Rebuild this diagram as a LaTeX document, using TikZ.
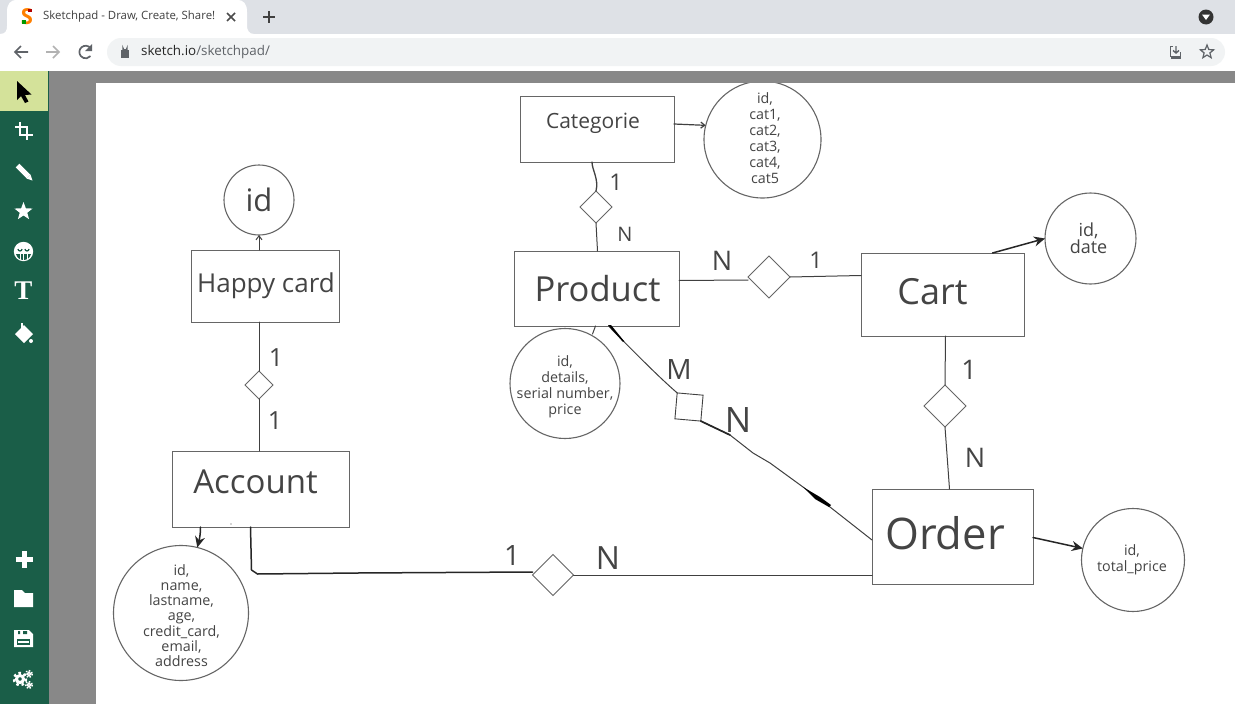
\documentclass[tikz,border=0pt]{standalone}
\usepackage{fontspec}
\setmainfont{Open Sans}
\newfontfamily\serifT{Liberation Serif}
\usetikzlibrary{shapes.geometric,arrows.meta,calc}
\definecolor{ink}{HTML}{444444}
\definecolor{pen}{HTML}{666666}
\definecolor{side}{HTML}{1A5E48}
\definecolor{band}{HTML}{888888}
\definecolor{tabbar}{HTML}{DEE1E6}
\definecolor{pill}{HTML}{F1F3F4}
\definecolor{lime}{HTML}{D4E29A}
\definecolor{uiicon}{HTML}{5F6368}
\tikzset{
 box/.style={draw=pen,line width=.9pt,rectangle,inner sep=0pt,outer sep=0pt,fill=white},
 attr/.style={draw=pen,line width=1.1pt,circle,inner sep=0pt,outer sep=0pt,fill=white},
 attrtext/.style={text=ink,align=center,inner sep=0pt},
 rel/.style={draw=pen,line width=1pt,diamond,aspect=1,inner sep=0pt,outer sep=0pt,fill=white},
 lab/.style={text=ink,inner sep=0pt},
 conn/.style={draw=black!75,line width=1pt,line cap=round,line join=round},
 heavy/.style={draw=black!85,line width=1.5pt,line cap=round,line join=round},
 tip/.style={-{Stealth[length=11pt,width=10pt]}},
 tinytip/.style={-{Straight Barb[length=4pt,width=6pt]}},
 ui/.style={white,line width=2.5pt},
}
\newcommand{\fs}[1]{\fontsize{#1}{#1}\selectfont}
\newcommand{\fsb}[2]{\fontsize{#1}{#2}\selectfont}
\begin{document}
\begin{tikzpicture}[x=1pt,y=-1pt]
\useasboundingbox (0,0) rectangle (1235,704);
% browser chrome
\fill[tabbar] (0,0) rectangle (1235,34);
\fill[white] (0,34) rectangle (1235,71);
\fill[white] (0,34) .. controls (6,34) and (7,30) .. (7,26) -- (7,12) .. controls (7,4) and (10,0) .. (17,0) -- (237,0) .. controls (244,0) and (247,4) .. (247,12) -- (247,26) .. controls (247,30) and (249,34) .. (254,34) -- cycle;
\fill[pill,rounded corners=14pt] (107,38) rectangle (1225,66);
\node[inner sep=0pt,font=\bfseries\fs{22},text=orange] at (27,17) {S};
\fill[green!60!black] (22,20) rectangle (26,24);
\fill[red!70!black] (28,9) rectangle (32,12);
\node[anchor=west,inner sep=0pt,text=black!75,font=\fs{11.4}] at (43,17) {Sketchpad - Draw, Create, Share!};
\draw[black!70,line width=1.5pt] (227,13) -- (235,21) (235,13) -- (227,21);
\draw[black!75,line width=1.8pt] (263,17) -- (275,17) (269,11) -- (269,23);
\fill[black!80] (1206,17) circle (7.5);
\fill[white] (1202,14.5) -- (1210,14.5) -- (1206,20) -- cycle;
\draw[uiicon,line width=1.7pt] (28,52) -- (15,52) (21,46) -- (15,52) -- (21,58);
\draw[black!30,line width=1.7pt] (46,52) -- (59,52) (53,46) -- (59,52) -- (53,58);
\draw[uiicon,line width=1.7pt] (90.5,48) arc (-40:-320:6.3);
\fill[uiicon] (92,44) -- (92,51) -- (85,51) -- cycle;
\fill[uiicon] (121,50) rectangle (129,58);
\draw[uiicon,line width=1.2pt] (123,50) -- (123,48) arc (180:0:2) -- (127,50);
\node[anchor=west,inner sep=0pt,font=\fs{13.4}] at (141,52) {\textcolor{black!85}{sketch.io}\textcolor{uiicon}{/sketchpad/}};
\draw[uiicon,line width=1pt] (1173,46.5) -- (1170,46.5) -- (1170,56) -- (1180,56) -- (1180,52);
\draw[uiicon,line width=1.4pt] (1176,46) -- (1176,53) (1173,50.5) -- (1176,53) -- (1179,50.5);
\fill[uiicon] (1171,57) rectangle (1181,59);
\node[star,star points=5,star point ratio=2.3,draw=uiicon,line width=1.2pt,minimum size=14pt,inner sep=0pt] at (1207,52) {};
% app frame
\fill[band] (49,71) rectangle (1235,704);
\fill[side] (0,71) rectangle (49,704);
\fill[lime] (0,71) rectangle (48,111);
\fill[white] (96,83) rectangle (1235,704);
% toolbar icons
\fill[black] (17,81) -- (17,100) -- (21,96) -- (25,103) -- (28.5,101.5) -- (25,95) -- (31.5,94.5) -- cycle;
\draw[ui] (15,127) -- (27,127) -- (27,140) (20,122) -- (20,135) -- (33,135);
\draw[white,line width=5pt] (17.5,165.5) -- (28.5,176.5);
\fill[white] (26.5,178.5) -- (30.5,174.5) -- (32.5,180.5) -- cycle;
\node[star,star points=5,star point ratio=2.4,fill=white,minimum size=19pt,inner sep=0pt] at (23.5,211.5) {};
\fill[white] (23.5,251.5) circle (9.7);
\fill[side] (16,254) .. controls (18,262) and (29,262) .. (31,254) -- cycle;
\draw[side,line width=1.2pt] (18,249) arc (180:0:2) (25,249) arc (180:0:2);
\draw[white,line width=.8pt] (20,254) -- (20,260) (23.5,254) -- (23.5,261) (27,254) -- (27,260);
\node[inner sep=0pt,text=white,font=\serifT\bfseries\fs{27}] at (23.5,291) {T};
\fill[white] (24,325) -- (33,334) -- (24,343) -- (15,334) -- cycle;
\fill[white] (31,341) circle (2);
\draw[white,line width=2pt] (22,330) -- (22,323);
\draw[white,line width=5pt] (15.5,559.5) -- (32.5,559.5) (24,551) -- (24,568);
\fill[white] (14,590) -- (22,590) -- (25,593) -- (33,593) -- (33,607) -- (14,607) -- cycle;
\fill[white] (14,630) -- (29,630) -- (33,634) -- (33,647) -- (14,647) -- cycle;
\fill[side] (18,631) rectangle (20,634) (23,631) rectangle (27,634);
\fill[side] (17,639) rectangle (30,645);
\fill[white] (18,641) rectangle (29,643);
\draw[white,line width=3pt] (20,679) circle (3.5);
\draw[white,line width=2.5pt,dash pattern=on 2.5pt off 2.8pt] (20,679) circle (6);
\draw[white,line width=1.6pt] (29,674) circle (1.8);
\draw[white,line width=1.4pt,dash pattern=on 1.5pt off 1.6pt] (29,674) circle (3.4);
\draw[white,line width=1.6pt] (29,685) circle (1.8);
\draw[white,line width=1.4pt,dash pattern=on 1.5pt off 1.6pt] (29,685) circle (3.4);
% nodes
\node[box,minimum width=154pt,minimum height=66pt,label={[lab,font=\fs{21},xshift=-4pt,yshift=6pt]center:Categorie}] (categorie) at (597,129) {};
\node[box,minimum width=148pt,minimum height=72pt,label={[lab,font=\fs{26},xshift=1pt,yshift=0pt]center:Happy card}] (happy) at (265,286) {};
\fill[black!70] (331.5,284.5) circle (.7);
\node[box,minimum width=165pt,minimum height=75pt,label={[lab,font=\fs{34.5},xshift=1pt,yshift=0pt]center:Product}] (product) at (596.5,288.5) {};
\node[box,minimum width=163pt,minimum height=83pt,label={[lab,font=\fs{36},xshift=-10pt,yshift=3pt]center:Cart}] (cart) at (942.5,294.5) {};
\node[box,minimum width=177pt,minimum height=76pt,label={[lab,font=\fs{33},xshift=-5pt,yshift=7pt]center:Account}] (account) at (260.5,489) {};
\fill[black!70] (231,524) circle (.7);
\node[box,minimum width=161pt,minimum height=95pt,label={[lab,font=\fs{43.5},xshift=-7.5pt,yshift=3pt]center:Order}] (order) at (952.5,536.5) {};
\begin{scope}
\clip (96,83) rectangle (1235,704);
\node[attr,minimum size=117pt,label={[attrtext,font=\fsb{14.3}{16},xshift=2.5pt,yshift=1.5pt]center:{id,\\cat1,\\cat2,\\cat3,\\cat4,\\cat5}}] (catattr) at (762.5,139.5) {};
\end{scope}
\node[attr,minimum size=70pt,label={[attrtext,font=\fs{31}]center:id}] (hid) at (259,200) {};
\node[attr,minimum size=91pt,label={[attrtext,font=\fsb{18}{17},xshift=-2pt,yshift=0pt]center:{id,\\date}}] (cartattr) at (1090.5,238.5) {};
\node[attr,minimum size=110pt,label={[attrtext,font=\fsb{14.3}{16},yshift=-3pt]center:{id,\\details,\\serial number,\\price}}] (prodattr) at (565,383.5) {};
\node[attr,minimum size=135pt,label={[attrtext,font=\fsb{14.3}{15.2},xshift=.5pt,yshift=-2.5pt]center:{id,\\name,\\lastname,\\age,\\credit\_card,\\email,\\address}}] (accattr) at (181,613) {};
\node[attr,minimum size=103pt,label={[attrtext,font=\fsb{14.3}{15.5},xshift=-1pt]center:{id,\\total\_price}}] (ordattr) at (1133,560) {};
\node[rel,minimum size=32pt] (rcp) at (596,207) {};
\node[rel,minimum size=28pt] (rha) at (259,385) {};
\node[rel,minimum size=42pt] (rpc) at (769,277) {};
\node[rel,minimum size=42pt] (rco) at (945,406) {};
\node[rel,minimum size=41pt] (rao) at (553,575) {};
\node[draw=black!75,line width=.9pt,rectangle,rotate=-5,minimum size=26pt,inner sep=0pt,outer sep=0pt,fill=white] (rpo) at (689,407) {};
% connectors
\draw[conn,line width=1.2pt,tinytip] ([yshift=5pt]categorie.east) -- (catattr.166);
\draw[conn,tinytip] ([xshift=-6pt]happy.north) -- (hid.south);
\draw[heavy,tip] ([xshift=50pt]cart.north) -- (cartattr.west);
\draw[heavy,tip] ([xshift=-60pt]account.south) .. controls +(0,8) and +(2,-8) .. (accattr.76);
\draw[heavy,tip] ([yshift=-1pt]order.east) -- (ordattr.167);
\draw[conn,line width=1.3pt] ([xshift=-5pt]categorie.south) .. controls +(0,8) and +(3,-12) .. (rcp.north);
\draw[conn] (rcp.south) -- ([xshift=1pt]product.north);
\draw[conn] (happy.south -| rha.north) -- (rha.north);
\draw[conn] (rha.south) -- (rha.south |- account.north);
\draw[conn] ([yshift=8pt]product.east) -- ([yshift=-3pt]rpc.west);
\draw[conn] (rpc.east) -- ([yshift=19pt]cart.west);
\draw[conn] ([xshift=3pt]cart.south) -- (rco.north);
\draw[conn] (rco.south) -- ([xshift=-3pt]order.north);
\draw[conn] ([xshift=-1pt]product.south) -- ++(-3,8);
\draw[heavy] ([xshift=-10pt]account.south) -- ++(1,43) -- ++(6,4) -- ++(100,-1) -- ([yshift=3pt]rao.west);
\draw[conn] (rao.east) -- ([yshift=9pt]order.south west);
\draw[conn] ([xshift=12pt]product.south) .. controls (640,358) and (660,378) .. (rpo.north west);
\fill[black] (608,325) -- (611,325) -- (624,341) -- (623,342) -- cycle;
\draw[conn] (rpo.south east) -- (730,435) -- (753,453) -- (770,463) -- (803,487) -- (830,507) -- ([yshift=44pt]order.south west);
\draw[heavy,line width=1.7pt] (rpo.south east) -- (730,435);
\fill[black] (803,487) -- (820,497) -- (831,505) -- (829,507) -- (815,499) -- cycle;
% cardinality labels
\node[lab,font=\fs{23}] (l1) at (616,182) {1};
\node[lab,font=\fs{20}] (l2) at (625,234) {N};
\node[lab,font=\fs{27}] (l3) at (722,261) {N};
\node[lab,font=\fs{23}] (l4) at (816,260) {1};
\node[lab,font=\fs{27}] (l5) at (969,370) {1};
\node[lab,font=\fs{27}] (l6) at (975,458) {N};
\node[lab,font=\fs{28}] (l7) at (679,370) {M};
\node[lab,font=\fs{35}] (l8) at (738,420) {N};
\node[lab,font=\fs{25}] (l9) at (276,358) {1};
\node[lab,font=\fs{25}] (l10) at (275,421) {1};
\node[lab,font=\fs{28}] (l11) at (512,556) {1};
\node[lab,font=\fs{32}] (l12) at (608,558) {N};
\end{tikzpicture}
\end{document}
